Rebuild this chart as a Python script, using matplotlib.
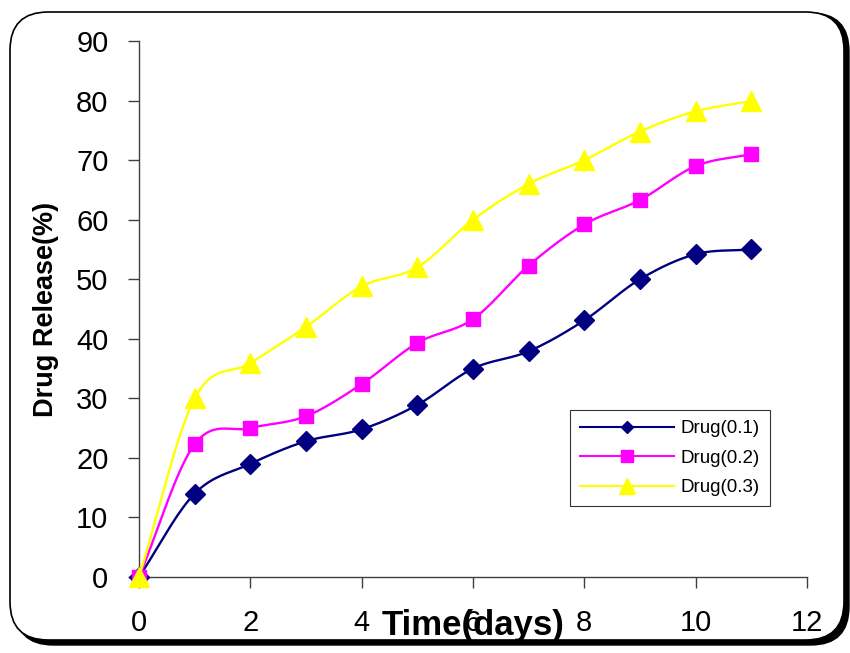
import numpy as np
import matplotlib
matplotlib.use("Agg")
import matplotlib.pyplot as plt
from matplotlib.patches import FancyBboxPatch
from matplotlib import font_manager

days = [0, 1, 2, 3, 4, 5, 6, 7, 8, 9, 10, 11]
drug_01 = [0, 14, 19, 22.8, 24.8, 28.9, 35, 37.9, 43.1, 50, 54.2, 55]
drug_02 = [0, 22.3, 25, 27, 32.4, 39.3, 43.3, 52.3, 59.2, 63.3, 69, 71]
drug_03 = [0, 30, 35.9, 42, 48.8, 52, 60, 66, 70, 74.8, 78.2, 79.9]
labels = ["Drug(0.1)", "Drug(0.2)", "Drug(0.3)"]
colors = ["#000080", "#FF00FF", "#FFFF00"]
markers = ["D", "s", "^"]
msizes = [10, 10.5, 14]
leg_msizes = [6.5, 8, 11]


def smooth(x, y, n=20):
    x = np.asarray(x, float)
    y = np.asarray(y, float)
    px = np.concatenate([[2 * x[0] - x[1]], x, [2 * x[-1] - x[-2]]])
    py = np.concatenate([[2 * y[0] - y[1]], y, [2 * y[-1] - y[-2]]])
    xs, ys = [], []
    for i in range(1, len(px) - 2):
        p0, p1, p2, p3 = (np.array([px[j], py[j]]) for j in (i - 1, i, i + 1, i + 2))
        c1 = p1 + (p2 - p0) / 6
        c2 = p2 - (p3 - p1) / 6
        t = np.linspace(0, 1, n)[:, None]
        b = ((1 - t) ** 3) * p1 + 3 * ((1 - t) ** 2) * t * c1 + 3 * (1 - t) * t ** 2 * c2 + t ** 3 * p2
        xs.extend(b[:, 0]); ys.extend(b[:, 1])
    return np.array(xs), np.array(ys)


names = {f.name for f in font_manager.fontManager.ttflist}
narrow = 'Liberation Sans Narrow' if 'Liberation Sans Narrow' in names else 'Liberation Sans'

plt.rcParams['font.family'] = ['Liberation Sans', 'DejaVu Sans']
fig = plt.figure(figsize=(8.5, 6.53), dpi=100)

# rounded frame with shadow
shadow = FancyBboxPatch((15 / 850, 8 / 653), 834 / 850, 632 / 653,
                        boxstyle="round,pad=0,rounding_size=0.045",
                        transform=fig.transFigure, facecolor="black", edgecolor="black",
                        mutation_aspect=850 / 653, zorder=0)
frame = FancyBboxPatch((10 / 850, 13 / 653), 834 / 850, 628 / 653,
                       boxstyle="round,pad=0,rounding_size=0.045",
                       transform=fig.transFigure, facecolor="white", edgecolor="black",
                       linewidth=1.2, mutation_aspect=850 / 653, zorder=1)
fig.patches.extend([shadow, frame])

ax = fig.add_axes([139 / 850, 1 - 577 / 653, (807 - 139) / 850, (577 - 41) / 653])
ax.patch.set_alpha(0)
ax.set_zorder(2)

series = [drug_01, drug_02, drug_03]
for i in [2, 1, 0]:
    sx, sy = smooth(days, series[i])
    ax.plot(sx, sy, color=colors[i], lw=1.7, zorder=3 + i, clip_on=False)
    ax.plot(days, series[i], linestyle="none", marker=markers[i], color=colors[i],
            markersize=msizes[i], zorder=3 + i, clip_on=False)

# legend handles
handles = [plt.Line2D([], [], color=colors[i], marker=markers[i], lw=1.5,
                      markersize=leg_msizes[i]) for i in range(3)]
leg = ax.legend(handles, labels, loc="upper left",
                bbox_to_anchor=((570 - 139) / 668, 1 - (410 - 41) / 536),
                frameon=True, fancybox=False, edgecolor="black", fontsize=13.5,
                handlelength=5.0, handletextpad=0.35, borderpad=0.55,
                labelspacing=0.65, borderaxespad=0)
leg.get_frame().set_linewidth(0.8)

ax.set_xlim(0, 12)
ax.set_ylim(0, 90)
ax.set_xticks(range(0, 13, 2))
ax.set_yticks(range(0, 91, 10))
for s in ["top", "right"]:
    ax.spines[s].set_visible(False)
for s in ["left", "bottom"]:
    ax.spines[s].set_color("#404040")
    ax.spines[s].set_linewidth(1)
ax.tick_params(axis="both", direction="out", length=8, width=1, color="#404040",
               labelsize=21)
ax.tick_params(axis="x", pad=15)
ax.tick_params(axis="y", pad=14)

ax.set_ylabel("Drug Release(%)", fontsize=19.5, fontweight="bold", labelpad=12,
              family=[narrow, 'DejaVu Sans'])
ax.text(6, -8.1, "Time(days)", ha="center", va="center", fontsize=25, fontweight="bold",
        transform=ax.transData)

fig.savefig("out.png", dpi=100)
